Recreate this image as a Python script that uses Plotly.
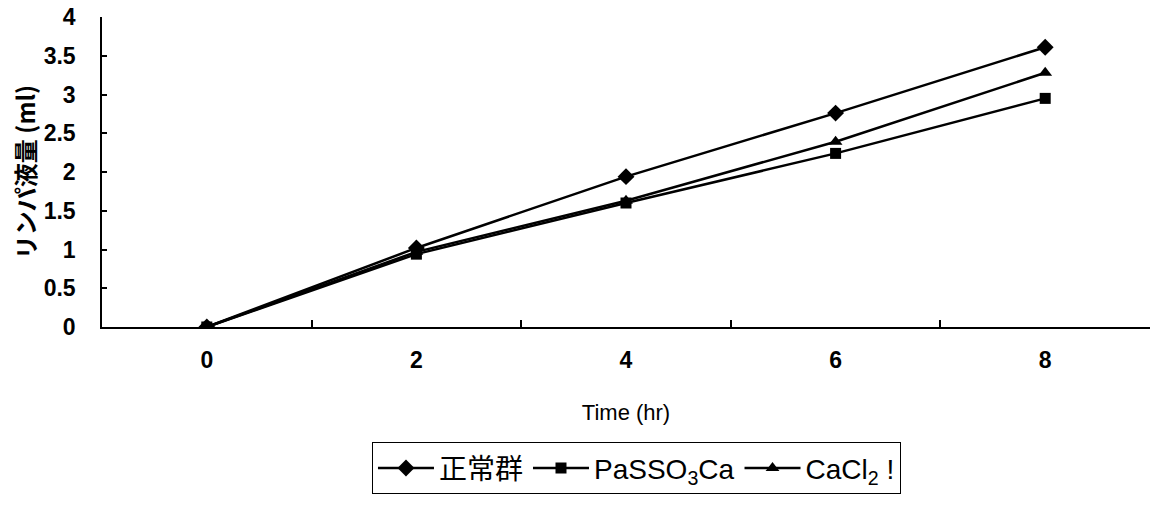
import plotly.graph_objects as go

time_labels = ["0", "2", "4", "6", "8"]
normal = [0.0, 1.02, 1.94, 2.76, 3.61]
passo3ca = [0.0, 0.94, 1.60, 2.24, 2.95]
cacl2 = [0.0, 0.97, 1.63, 2.39, 3.28]

series_names = ["正常群", "PaSSO<sub>3</sub>Ca", "CaCl<sub>2</sub> !"]
symbols = ["diamond", "square", "triangle-up"]
sizes = [13, 11, 12]

fig = go.Figure()
for name, vals, sym, sz in zip(series_names, [normal, passo3ca, cacl2], symbols, sizes):
    fig.add_trace(go.Scatter(
        x=time_labels, y=vals, name=name, mode="lines+markers",
        line=dict(color="black", width=2.5),
        marker=dict(symbol=sym, size=sz, color="black"),
    ))

sans = "Liberation Sans, Arial"
tickfont = dict(family=sans, size=23, color="black", weight="bold")

fig.update_layout(
    width=1153, height=506,
    margin=dict(l=102, r=3, t=17, b=179),
    paper_bgcolor="white", plot_bgcolor="white",
    showlegend=True,
    legend=dict(
        orientation="h", x=0.510, xanchor="center", y=-0.372, yanchor="top",
        bordercolor="black", borderwidth=1,
        font=dict(family="Liberation Sans, Noto Sans CJK JP", size=28, color="black"),
        itemwidth=56,
    ),
    xaxis=dict(
        type="category", categoryorder="array", categoryarray=time_labels,
        range=[-0.5, 4.5], tickson="boundaries",
        showline=True, linecolor="black", linewidth=1.5,
        ticks="inside", ticklen=7, tickcolor="black", tickwidth=1.5,
        showgrid=False, zeroline=False, tickfont=tickfont,
        ticklabelstandoff=12,
        title=dict(text="Time (hr)", font=dict(family=sans, size=22, color="black"), standoff=32),
    ),
    yaxis=dict(
        range=[0, 4], tickvals=[0, 0.5, 1, 1.5, 2, 2.5, 3, 3.5, 4],
        ticktext=["0", "0.5", "1", "1.5", "2", "2.5", "3", "3.5", "4"],
        showline=True, linecolor="black", linewidth=1.5,
        ticks="inside", ticklen=5, tickcolor="black", tickwidth=1.5,
        showgrid=False, zeroline=False, tickfont=tickfont,
        ticklabelstandoff=20,
        title=dict(text="リンパ液量 (ml)", font=dict(family="Noto Sans CJK JP", size=24, color="black", weight="bold"), standoff=1),
    ),
)

fig.write_html("out.html")
